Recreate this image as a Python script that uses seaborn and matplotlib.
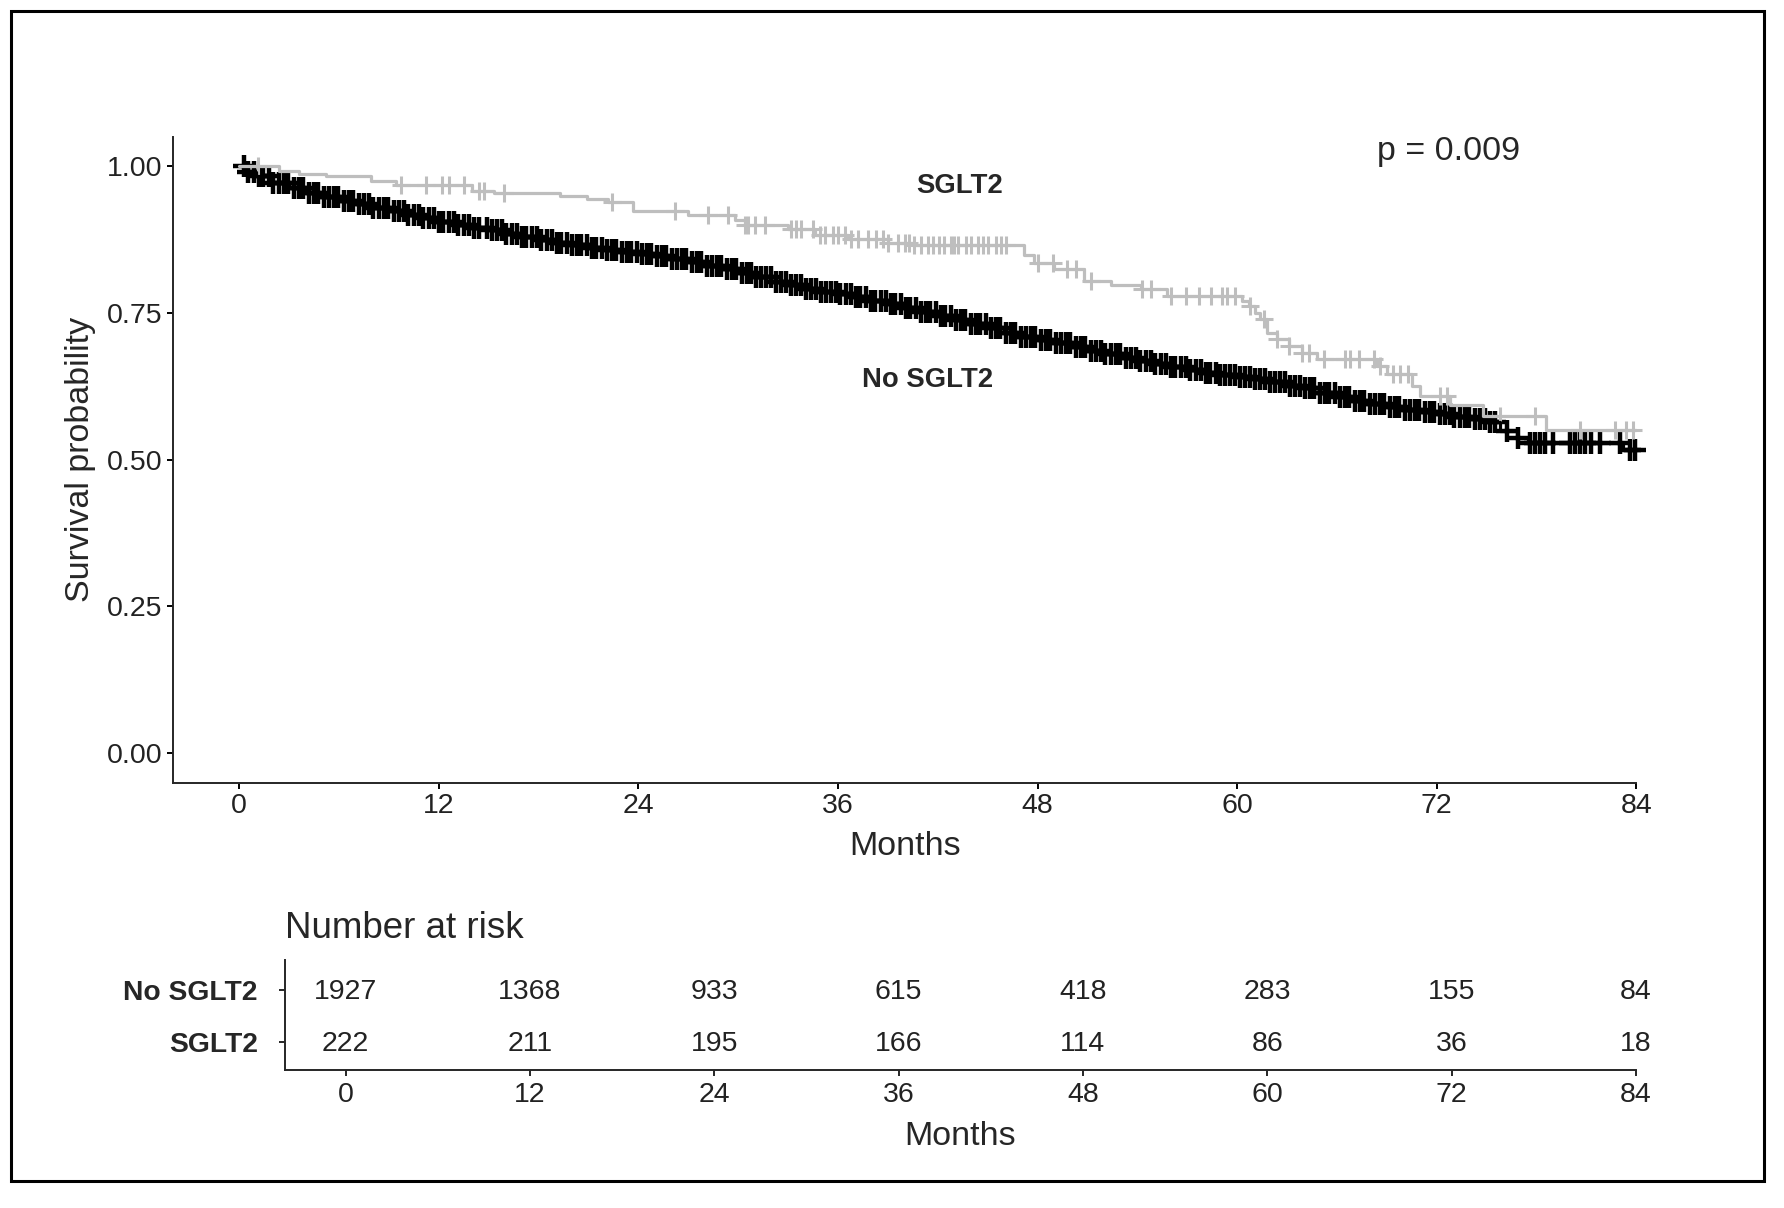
import numpy as np
import pandas as pd
import seaborn as sns
import matplotlib.pyplot as plt
from matplotlib.patches import Rectangle

groups = ['No SGLT2', 'SGLT2']
palette = {'No SGLT2': 'black', 'SGLT2': '#BEBEBE'}

# Kaplan-Meier steps
no_sglt2_time = [0, 0.5, 1, 2, 3, 4, 5, 6, 7, 8, 9, 10, 11, 12, 13, 14, 15, 16, 17, 18,
                 19, 20, 21, 22, 23, 24, 25, 26, 27, 28, 29, 30, 31, 32, 33, 34, 35, 36,
                 37, 38, 39, 40, 41, 42, 43, 44, 45, 46, 47, 48, 49, 50, 51, 52, 53, 54,
                 55, 56, 57, 58, 59, 60, 61, 62, 63, 64, 65, 66, 67, 68, 69, 70, 71, 72,
                 73, 74, 75, 75.8, 76.8, 77.5, 83.2, 84]
no_sglt2_surv = [1.000, 0.990, 0.983,
                 0.971, 0.962, 0.954, 0.947, 0.941, 0.935, 0.929, 0.923, 0.917, 0.911,
                 0.905, 0.900, 0.895, 0.890, 0.884, 0.879, 0.874, 0.869, 0.865, 0.861,
                 0.857, 0.854, 0.850, 0.846, 0.841, 0.836, 0.830, 0.824, 0.817, 0.810,
                 0.803, 0.797, 0.791, 0.786, 0.781, 0.776, 0.770, 0.764, 0.758, 0.752,
                 0.745, 0.738, 0.731, 0.724, 0.716, 0.708, 0.703, 0.698, 0.691, 0.685,
                 0.679, 0.673, 0.668, 0.663, 0.657, 0.652, 0.647, 0.644, 0.641, 0.637,
                 0.632, 0.626, 0.621, 0.614, 0.607, 0.600, 0.594, 0.589, 0.585, 0.581,
                 0.577, 0.573, 0.569, 0.564,
                 0.549, 0.537, 0.528, 0.517, 0.517]

sglt2_time = [0, 2.4, 3.6, 5.2, 7.9, 9.4, 14.0, 15.3, 19.3, 20.9, 22.2, 23.7, 27.0, 29.8,
              30.4, 33.0, 34.6, 36.6, 39.0, 40.5, 47.2, 47.8, 49.0, 50.8, 52.4, 54.2, 55.8,
              60.3, 60.7, 61.1, 61.4, 61.8, 62.4, 63.1, 63.9, 64.8, 68.4, 69.0, 70.5, 71.0,
              72.8, 74.8, 78.6, 84.0]
sglt2_surv = [1.000, 0.991, 0.986, 0.982, 0.975, 0.967, 0.957, 0.954, 0.949, 0.943, 0.938,
              0.924, 0.916, 0.907, 0.900, 0.892, 0.883, 0.875, 0.869, 0.865, 0.849, 0.835,
              0.824, 0.804, 0.798, 0.790, 0.779, 0.770, 0.761, 0.750, 0.739, 0.716, 0.705,
              0.693, 0.682, 0.672, 0.659, 0.645, 0.625, 0.609, 0.592, 0.574, 0.551, 0.551]

# censoring times (+ marks)
no_sglt2_censor = [0.3, 0.55, 0.9, 1.2, 1.45, 1.8, 2.05, 2.4, 2.7, 2.95, 3.3, 3.6, 3.85, 4.2,
                   4.5, 4.75, 5.1, 5.4, 5.7, 5.95, 6.3, 6.6, 6.85, 7.2, 7.5, 7.8, 8.05, 8.4,
                   8.7, 8.95, 9.3, 9.6, 9.9, 10.15, 10.5, 10.8, 11.05, 11.4, 11.7, 12.0,
                   12.25, 12.6, 12.9, 13.15, 13.5, 13.8, 14.1, 14.4, 14.9, 15.2, 15.5, 15.8,
                   16.05, 16.4, 16.7, 17.0, 17.25, 17.6, 17.9, 18.15, 18.5, 18.8, 19.1,
                   19.35, 19.7, 20.0, 20.3, 20.55, 20.9, 21.2, 21.45, 21.8, 22.1, 22.4,
                   22.65, 23.0, 23.3, 23.55, 23.9, 24.2, 24.5, 24.75, 25.1, 25.4, 25.65,
                   26.0, 26.3, 26.6, 26.85, 27.2, 27.5, 27.75, 28.1, 28.4, 28.7, 28.95,
                   29.3, 29.6, 29.85, 30.2, 30.5, 30.8, 31.05, 31.4, 31.7, 31.95, 32.3,
                   32.6, 32.9, 33.15, 33.5, 33.8, 34.05, 34.4, 34.7, 35.0, 35.25, 35.6,
                   35.9, 36.15, 36.5, 36.8, 37.1, 37.35, 37.7, 38.0, 38.25, 38.6, 38.9,
                   39.2, 39.45, 39.8, 40.1, 40.35, 40.7, 41.0, 41.3, 41.55, 41.9, 42.2,
                   42.45, 42.8, 43.1, 43.4, 43.65, 44.0, 44.3, 44.55, 44.9, 45.2, 45.5,
                   45.75, 46.1, 46.4, 46.65, 47.0, 47.3, 47.6, 47.85, 48.2, 48.5, 48.75,
                   49.1, 49.4, 49.7, 49.95, 50.3, 50.6, 50.85, 51.2, 51.5, 51.8, 52.05,
                   52.4, 52.7, 52.95, 53.3, 53.6, 53.9, 54.15, 54.5, 54.8, 55.05, 55.4,
                   55.7, 56.0, 56.25, 56.6, 56.9, 57.15, 57.5, 57.8, 58.1, 58.35, 58.7,
                   59.0, 59.25, 59.6, 59.9, 60.2, 60.45, 60.8, 61.1, 61.35, 61.7, 62.0,
                   62.3, 62.55, 62.9, 63.2, 63.45, 63.8, 64.1, 64.4, 64.65, 65.0, 65.3,
                   65.55, 65.9, 66.2, 66.5, 66.75, 67.1, 67.4, 67.65, 68.0, 68.3, 68.6,
                   68.85, 69.2, 69.5, 69.75, 70.1, 70.4, 70.7, 70.95, 71.3, 71.6, 71.85,
                   72.2, 72.5, 72.8, 73.05, 73.4, 73.7, 73.95, 74.3, 74.6, 74.9, 75.2,
                   75.5, 76.2, 76.9, 77.6, 77.9, 78.2, 78.5, 79.0, 80.0, 80.3, 80.6, 80.9,
                   81.3, 81.8, 83.0, 83.6, 83.9]
sglt2_censor = [1.1, 9.7, 11.2, 12.2, 12.6, 13.5, 14.4, 14.7, 15.9, 22.4, 26.2, 28.2, 29.4,
                30.4, 30.6, 31.0, 31.6, 33.2, 33.5, 33.8, 34.5, 34.9, 35.2, 35.7, 36.0,
                36.4, 36.8, 37.2, 37.8, 38.3, 38.7, 39.0, 39.6, 40.0, 40.3, 40.6, 41.0,
                41.4, 41.7, 42.1, 42.4, 42.8, 43.0, 43.2, 43.7, 44.0, 44.4, 44.7, 45.0,
                45.5, 45.8, 46.1, 48.0, 48.9, 49.8, 50.3, 51.2, 54.3, 54.8, 56.0, 56.9,
                57.7, 58.4, 59.1, 59.4, 59.9, 60.8, 61.6, 62.4, 63.1, 63.9, 64.3, 65.2,
                66.5, 66.8, 67.3, 68.2, 68.6, 69.4, 69.8, 70.3, 72.2, 72.6, 75.8, 77.9,
                80.6, 82.7, 83.4, 83.8]

risk_times = [0, 12, 24, 36, 48, 60, 72, 84]
risk_no_sglt2 = [1927, 1368, 933, 615, 418, 283, 155, 84]
risk_sglt2 = [222, 211, 195, 166, 114, 86, 36, 18]
p_text = 'p = 0.009'


def step_value(times, surv, t):
    idx = np.searchsorted(times, t, side='right') - 1
    return np.asarray(surv)[idx]


curves = pd.concat([
    pd.DataFrame({'time': no_sglt2_time, 'surv': no_sglt2_surv, 'group': 'No SGLT2'}),
    pd.DataFrame({'time': sglt2_time, 'surv': sglt2_surv, 'group': 'SGLT2'}),
])
censors = pd.concat([
    pd.DataFrame({'time': no_sglt2_censor,
                  'surv': step_value(no_sglt2_time, no_sglt2_surv, no_sglt2_censor),
                  'group': 'No SGLT2'}),
    pd.DataFrame({'time': sglt2_censor,
                  'surv': step_value(sglt2_time, sglt2_surv, sglt2_censor),
                  'group': 'SGLT2'}),
])
mark_size = {'No SGLT2': 230, 'SGLT2': 170}
mark_width = {'No SGLT2': 3.2, 'SGLT2': 2.2}

sns.set_style('ticks')
plt.rcParams['font.family'] = ['Liberation Sans', 'DejaVu Sans']
plt.rcParams['axes.linewidth'] = 1.4

fig = plt.figure(figsize=(17.84, 12.08), dpi=100)
ax = fig.add_axes([0.097, 0.3522, 0.8202, 0.5348])
ax_risk = fig.add_axes([0.1596, 0.1142, 0.7574, 0.0911])

for g in groups:
    sns.lineplot(data=curves[curves['group'] == g], x='time', y='surv', color=palette[g],
                 drawstyle='steps-post', linewidth=2.3, estimator=None, sort=False,
                 legend=False, ax=ax, clip_on=False)
    sns.scatterplot(data=censors[censors['group'] == g], x='time', y='surv',
                    color=palette[g], marker='+', s=mark_size[g], linewidth=mark_width[g],
                    legend=False, ax=ax, clip_on=False)

ax.set_xlim(-3.98, 84)
ax.set_ylim(-0.05, 1.05)
ax.set_xticks(risk_times)
ax.set_yticks([0, 0.25, 0.5, 0.75, 1.0])
ax.set_yticklabels([f'{v:.2f}' for v in [0, 0.25, 0.5, 0.75, 1.0]])
ax.tick_params(labelsize=20.5, length=4.3, width=1.4, pad=3.5, colors='black',
               labelcolor='#222222')
ax.set_xlabel('Months', fontsize=24.5, va='center')
ax.set_ylabel('Survival probability', fontsize=24.5, va='center')
ax.xaxis.set_label_coords(0.5, -0.0997)
ax.yaxis.set_label_coords(-0.0634, 0.5)
sns.despine(ax=ax)

ax.text(68.4, 1.024, p_text, fontsize=24.5, ha='left', va='center')
ax.text(43.3, 0.966, 'SGLT2', fontsize=19.8, fontweight='bold', ha='center', va='center')
ax.text(41.4, 0.636, 'No SGLT2', fontsize=19.8, fontweight='bold', ha='center', va='center')

# number at risk table
for t, n1, n2 in zip(risk_times, risk_no_sglt2, risk_sglt2):
    ax_risk.text(t, 1.96, str(n1), fontsize=20.5, ha='center', va='center', color='#222222')
    ax_risk.text(t, 0.96, str(n2), fontsize=20.5, ha='center', va='center', color='#222222')

ax_risk.set_xlim(-3.96, 84)
ax_risk.set_ylim(0.45, 2.58)
ax_risk.set_xticks(risk_times)
ax_risk.set_yticks([2, 1])
ax_risk.set_yticklabels(groups, fontweight='bold')
ax_risk.tick_params(axis='x', labelsize=20.5, length=4.3, width=1.4, pad=4.5,
                    labelcolor='#222222')
ax_risk.tick_params(axis='y', labelsize=20.3, length=4.3, width=1.4, pad=15)
ax_risk.set_xlabel('Months', fontsize=24.5, va='center')
ax_risk.xaxis.set_label_coords(0.5, -0.6)
ax_risk.set_ylabel('')
ax_risk.text(0, 1.29, 'Number at risk', transform=ax_risk.transAxes, fontsize=26.5,
             ha='left', va='center')
sns.despine(ax=ax_risk)

fig.patches.append(Rectangle((0.0064, 0.0224), 0.9824, 0.9682, transform=fig.transFigure,
                             fill=False, edgecolor='black', linewidth=2.2))

fig.savefig('out.png', dpi=100)
